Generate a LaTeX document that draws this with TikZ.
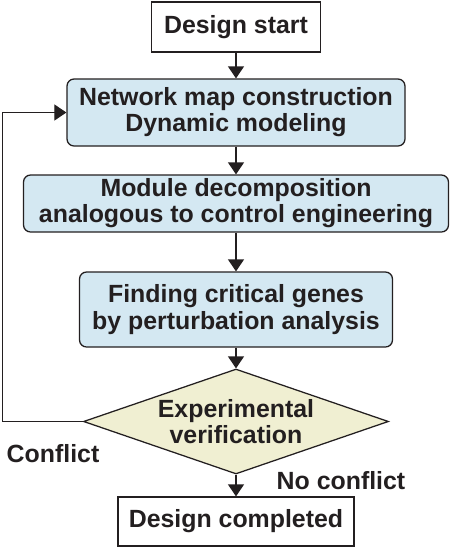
\documentclass[tikz,border=0pt]{standalone}
\usepackage{fontspec}
\setmainfont{Liberation Sans}
\usepackage{tikz}
\usetikzlibrary{shapes.geometric}
\usetikzlibrary{arrows.meta}
\usepackage{xcolor}
\definecolor{boxblue}{RGB}{212,232,242}
\definecolor{boxyellow}{RGB}{240,239,210}
\definecolor{ink}{RGB}{35,31,32}

\begin{document}
\begin{tikzpicture}[scale=1,
  every node/.style={font=\fontsize{17.7}{18.6}\selectfont\bfseries, text=ink, align=center},
  endbox/.style={draw=ink, line width=0.9pt, fill=white, inner sep=0pt},
  stepbox/.style={draw=ink, line width=0.9pt, fill=boxblue, rounded corners=5pt, inner sep=0pt},
  decision/.style={diamond, draw=ink, line width=0.9pt, fill=boxyellow, inner sep=0pt},
  flow/.style={ink, line width=0.9pt, -{Triangle[width=0.4cm,length=0.3cm]}}]
\useasboundingbox (0,0) rectangle (11.3,-13.675);

\node [endbox, minimum width=4.225cm, minimum height=1.25cm] (start) at (5.9,-0.675) {Design start};
\node [stepbox, minimum width=8.45cm, minimum height=1.675cm] (net) at (5.9,-2.8125) {Network map construction\\Dynamic modeling};
\node [stepbox, minimum width=10.625cm, minimum height=1.425cm] (mod) at (5.9,-5.0875) {Module decomposition\\analogous to control engineering};
\node [stepbox, minimum width=7.825cm, minimum height=1.875cm] (find) at (5.9,-7.7375) {Finding critical genes\\by perturbation analysis};
\node [decision, minimum width=7.625cm, minimum height=2.625cm, label={[align=center]center:Experimental\\verification}] (verify) at (5.9,-10.5375) {};
\node [endbox, minimum width=5.9cm, minimum height=1.225cm] (done) at (5.9,-13.0375) {Design completed};

\draw [flow] (start) -- (net);
\draw [flow] (net) -- (mod);
\draw [flow] (mod) -- (find);
\draw [flow] (find) -- (verify);
\draw [flow] (verify) -- (done);
\draw [flow] (verify.west) -- ++(-2.0,0) |- (net.west);

\node (conflict) at (1.325,-11.35) {Conflict};
\node (noconflict) at (8.525,-12.025) {No conflict};

\end{tikzpicture}
\end{document}
